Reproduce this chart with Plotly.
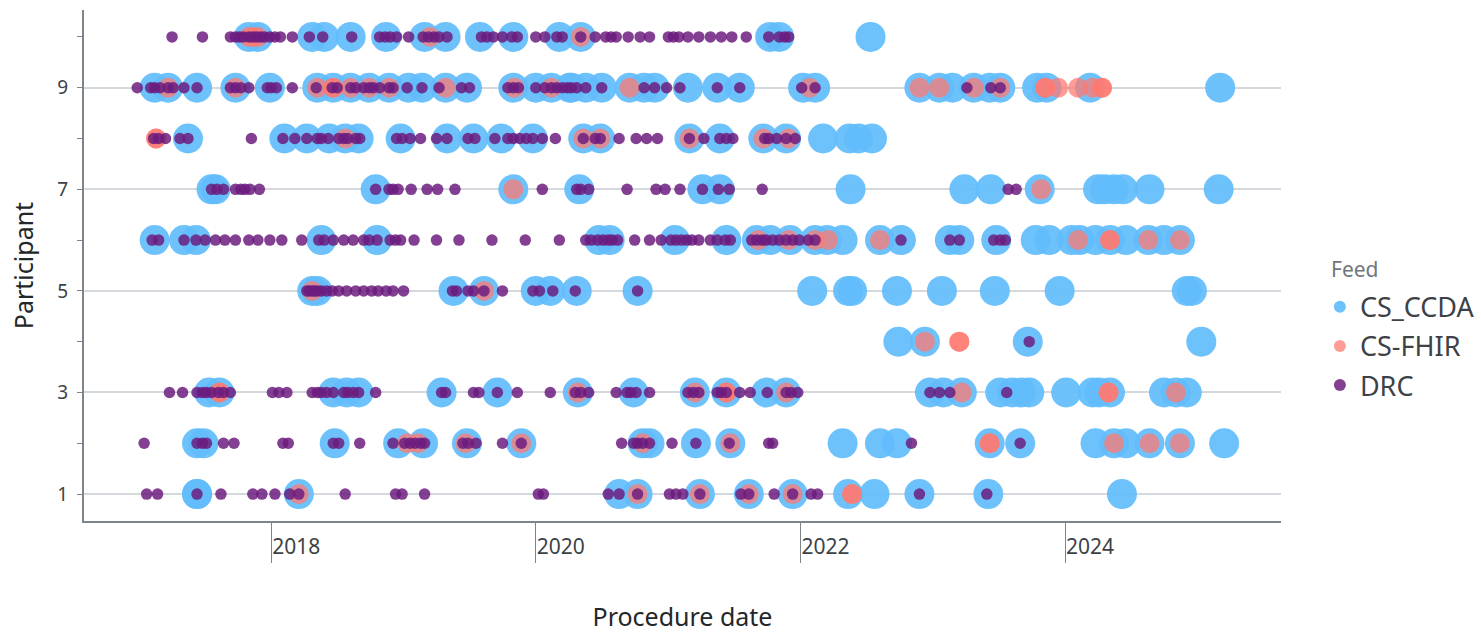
import pandas as pd
import plotly.graph_objects as go

FEEDS = ["CS_CCDA", "CS-FHIR", "DRC"]

# Procedure dates as decimal years, per participant
ccda_10 = [2017.83,2017.90,2018.31,2018.40,2018.60,2018.87,2019.16,2019.32,2019.58,2019.83,2020.18,2020.34,2021.77,2021.84,2022.53]
fhir_10 = [2017.83,2017.86,2017.90,2019.20,2020.34]
drc_10 = [2017.25,2017.48,2017.69,2017.73,2017.76,2017.79,2017.83,2017.86,2017.89,2017.92,2017.95,2017.99,2018.03,2018.07,2018.16,2018.29,2018.39,2018.61,2018.82,2018.86,2018.90,2018.95,2019.04,2019.15,2019.19,2019.23,2019.27,2019.33,2019.59,2019.63,2019.68,2019.75,2019.82,2019.86,2020.00,2020.07,2020.16,2020.20,2020.34,2020.45,2020.53,2020.57,2020.61,2020.70,2020.79,2020.86,2021.00,2021.04,2021.08,2021.15,2021.23,2021.32,2021.40,2021.48,2021.59,2021.76,2021.84,2021.88,2021.91]

ccda_9 = [2017.12,2017.22,2017.44,2017.73,2017.99,2018.35,2018.47,2018.60,2018.74,2018.89,2019.04,2019.14,2019.32,2019.48,2019.83,2020.00,2020.12,2020.26,2020.27,2020.38,2020.50,2020.71,2020.82,2020.90,2021.15,2021.37,2021.54,2022.02,2022.11,2022.90,2023.05,2023.15,2023.31,2023.43,2023.51,2023.79,2023.86,2024.19,2025.17]
fhir_9 = [2017.22,2017.73,2018.35,2018.47,2018.47,2018.60,2018.74,2018.89,2019.32,2019.84,2020.12,2020.71,2022.07,2022.90,2023.05,2023.31,2023.51,2023.85,2023.85,2023.95,2024.10,2024.21,2024.28,2024.28]
drc_9 = [2016.99,2017.09,2017.12,2017.16,2017.22,2017.26,2017.34,2017.44,2017.69,2017.73,2017.77,2017.83,2017.97,2018.00,2018.04,2018.16,2018.34,2018.46,2018.50,2018.60,2018.64,2018.70,2018.74,2018.77,2018.82,2018.89,2018.92,2019.03,2019.14,2019.27,2019.44,2019.50,2019.79,2019.83,2019.87,2020.00,2020.07,2020.12,2020.16,2020.20,2020.24,2020.27,2020.31,2020.38,2020.50,2020.82,2020.90,2020.99,2021.09,2021.37,2021.54,2022.01,2022.11,2023.26,2023.44,2023.51]

ccda_8 = [2017.37,2018.10,2018.27,2018.44,2018.56,2018.66,2018.98,2019.33,2019.53,2019.74,2019.98,2020.36,2020.49,2021.16,2021.39,2021.72,2021.89,2022.17,2022.37,2022.44,2022.54]
fhir_8 = [2017.13,2017.13,2018.56,2020.36,2020.49,2021.16,2021.72,2021.91]
drc_8 = [2017.11,2017.15,2017.20,2017.31,2017.37,2017.85,2018.09,2018.18,2018.27,2018.35,2018.38,2018.43,2018.51,2018.55,2018.58,2018.64,2018.67,2018.95,2018.99,2019.05,2019.13,2019.25,2019.33,2019.49,2019.54,2019.69,2019.79,2019.83,2019.88,2019.93,2019.98,2020.05,2020.15,2020.36,2020.45,2020.49,2020.63,2020.76,2020.84,2020.92,2021.16,2021.27,2021.39,2021.44,2021.49,2021.73,2021.76,2021.82,2021.89,2021.96]

ccda_7 = [2017.55,2017.58,2018.79,2019.83,2020.33,2021.26,2021.39,2022.38,2023.24,2023.44,2023.81,2024.25,2024.30,2024.37,2024.44,2024.64,2025.16]
fhir_7 = [2019.83,2023.82]
drc_7 = [2017.55,2017.59,2017.64,2017.73,2017.77,2017.80,2017.84,2017.91,2018.79,2018.89,2018.92,2018.96,2019.06,2019.18,2019.26,2019.39,2020.05,2020.31,2020.34,2020.40,2020.69,2020.91,2020.98,2021.09,2021.26,2021.38,2021.46,2021.71,2023.57,2023.63]

ccda_6 = [2017.12,2017.34,2017.43,2018.38,2018.80,2020.48,2020.56,2021.05,2021.44,2021.67,2021.77,2021.92,2022.11,2022.20,2022.32,2022.60,2022.76,2023.13,2023.20,2023.48,2023.78,2023.88,2024.05,2024.11,2024.23,2024.34,2024.46,2024.63,2024.75,2024.87]
fhir_6 = [2021.68,2021.91,2022.11,2022.21,2022.60,2024.10,2024.34,2024.34,2024.63,2024.87]
drc_6 = [2017.10,2017.15,2017.34,2017.43,2017.50,2017.58,2017.65,2017.73,2017.83,2017.90,2017.99,2018.08,2018.23,2018.36,2018.40,2018.47,2018.55,2018.62,2018.70,2018.74,2018.80,2018.90,2018.94,2018.98,2019.08,2019.25,2019.42,2019.67,2019.92,2020.18,2020.38,2020.42,2020.47,2020.51,2020.55,2020.58,2020.62,2020.75,2020.86,2020.95,2021.02,2021.06,2021.10,2021.14,2021.18,2021.23,2021.32,2021.37,2021.43,2021.47,2021.63,2021.67,2021.71,2021.74,2021.79,2021.84,2021.89,2021.94,2021.99,2022.06,2022.11,2022.76,2023.13,2023.20,2023.46,2023.51,2023.55]

ccda_5 = [2018.31,2018.35,2019.38,2019.61,2020.00,2020.11,2020.31,2020.77,2022.09,2022.36,2022.39,2022.73,2023.07,2023.47,2023.96,2024.92,2024.96]
fhir_5 = [2018.31,2019.61]
drc_5 = [2018.27,2018.29,2018.31,2018.33,2018.35,2018.38,2018.42,2018.46,2018.51,2018.57,2018.64,2018.70,2018.76,2018.81,2018.87,2018.92,2019.00,2019.37,2019.40,2019.49,2019.53,2019.61,2019.75,2019.98,2020.03,2020.13,2020.30,2020.77]

ccda_4 = [2022.74,2022.94,2023.72,2025.03]
fhir_4 = [2022.94,2023.20,2023.20]
drc_4 = [2023.73]

ccda_3 = [2017.53,2017.61,2018.47,2018.57,2018.66,2019.29,2019.71,2020.32,2020.74,2021.20,2021.44,2021.74,2021.89,2022.98,2023.08,2023.22,2023.51,2023.60,2023.67,2023.73,2024.01,2024.21,2024.26,2024.34,2024.75,2024.84,2024.92]
fhir_3 = [2017.61,2017.61,2020.32,2021.20,2021.44,2021.44,2021.89,2023.22,2024.33,2024.33,2024.84]
drc_3 = [2017.23,2017.33,2017.44,2017.48,2017.51,2017.55,2017.60,2017.64,2017.69,2018.01,2018.06,2018.12,2018.31,2018.35,2018.38,2018.42,2018.47,2018.55,2018.58,2018.62,2018.66,2018.79,2019.29,2019.32,2019.53,2019.57,2019.71,2019.86,2020.11,2020.30,2020.34,2020.40,2020.61,2020.69,2020.72,2020.76,2020.86,2021.15,2021.19,2021.23,2021.37,2021.40,2021.44,2021.54,2021.62,2021.75,2021.89,2021.93,2021.98,2022.98,2023.05,2023.13,2023.56]

ccda_2 = [2017.44,2017.49,2018.48,2018.96,2019.15,2019.48,2019.89,2020.81,2020.86,2021.21,2021.47,2022.32,2022.60,2022.73,2023.43,2023.66,2024.23,2024.37,2024.46,2024.64,2024.87,2025.20]
fhir_2 = [2019.03,2019.11,2019.47,2019.89,2020.81,2021.47,2023.43,2023.43,2024.37,2024.64,2024.87]
drc_2 = [2017.04,2017.44,2017.48,2017.51,2017.64,2017.72,2018.09,2018.13,2018.47,2018.51,2018.67,2018.92,2019.01,2019.05,2019.09,2019.13,2019.16,2019.45,2019.49,2019.55,2019.75,2019.89,2020.65,2020.74,2020.77,2020.81,2020.86,2021.03,2021.21,2021.46,2021.76,2021.79,2022.84,2023.66]

ccda_1 = [2017.44,2017.44,2018.21,2020.63,2020.77,2021.24,2021.61,2021.94,2022.36,2022.56,2022.90,2023.42,2024.43]
fhir_1 = [2018.21,2020.77,2021.24,2021.61,2021.94,2022.39,2022.39]
drc_1 = [2017.06,2017.14,2017.44,2017.62,2017.86,2017.93,2018.03,2018.14,2018.21,2018.56,2018.94,2018.99,2019.16,2020.02,2020.06,2020.55,2020.63,2020.77,2021.01,2021.06,2021.11,2021.24,2021.55,2021.61,2021.80,2021.94,2022.08,2022.13,2022.90,2023.41]

ccda = {10:ccda_10,9:ccda_9,8:ccda_8,7:ccda_7,6:ccda_6,5:ccda_5,4:ccda_4,3:ccda_3,2:ccda_2,1:ccda_1}
fhir = {10:fhir_10,9:fhir_9,8:fhir_8,7:fhir_7,6:fhir_6,5:fhir_5,4:fhir_4,3:fhir_3,2:fhir_2,1:fhir_1}
drc = {10:drc_10,9:drc_9,8:drc_8,7:drc_7,6:drc_6,5:drc_5,4:drc_4,3:drc_3,2:drc_2,1:drc_1}

YEAR_TICKS = ["2018-01-01", "2020-01-01", "2022-01-01", "2024-01-01"]
YEAR_LABELS = ["2018", "2020", "2022", "2024"]
Y_LABELS = [1, 3, 5, 7, 9]
LEGEND_TITLE = "Feed"


def to_date(v):
    year = int(v)
    start = pd.Timestamp(year=year, month=1, day=1)
    return (start + pd.Timedelta(days=(v - year) * 365.25)).strftime("%Y-%m-%d")


def flatten(table):
    xs, ys = [], []
    for participant, values in table.items():
        for v in values:
            xs.append(to_date(v))
            ys.append(participant)
    return xs, ys


FONT = "Noto Sans"
INK = "#3c4247"
AXIS = "#7d858b"

fig = go.Figure()
styles = [(ccda, "#62bdfc", 30, 0.92), (fhir, "#ff7a72", 20, 0.74), (drc, "#6b1c7e", 11.5, 0.84)]
for name, (table, color, size, op) in zip(FEEDS, styles):
    xs, ys = flatten(table)
    fig.add_trace(go.Scatter(x=xs, y=ys, mode="markers", name=name, legendgroup=name,
                             marker=dict(color=color, size=size, opacity=op, line=dict(width=0))))

fig.update_layout(
    width=1481, height=633,
    margin=dict(l=84, r=200, t=10, b=112, autoexpand=False),
    paper_bgcolor="white", plot_bgcolor="white",
    font=dict(family=FONT, color=INK),
    showlegend=True,
    legend=dict(
        font=dict(size=27, color=INK),
        x=1.0325, xanchor="left", xref="paper", y=0.342, yanchor="middle",
        itemsizing="constant", itemwidth=30, tracegroupgap=1, traceorder="grouped",
    ),
    annotations=[dict(text=LEGEND_TITLE, xref="paper", yref="paper", x=1.0405, y=0.4925,
                      xanchor="left", yanchor="middle", showarrow=False,
                      font=dict(size=21, color="#70777d"))],
    xaxis=dict(
        type="date", range=["2016-08-02", "2025-08-19"], automargin=False,
        tickmode="array", tickvals=YEAR_TICKS, ticktext=YEAR_LABELS,
        ticks="outside", ticklen=40, tickwidth=1, tickcolor=AXIS,
        ticklabelshift=25, ticklabelstandoff=-34,
        tickfont=dict(size=21, color=INK),
        showgrid=False, zeroline=False, showline=True, linecolor=AXIS, linewidth=2,
        title=dict(text="Procedure date", font=dict(size=25, color="#23272a"), standoff=58),
    ),
    yaxis=dict(
        range=[0.47, 10.53], automargin=False,
        tickmode="array", tickvals=Y_LABELS, ticktext=[str(v) for v in Y_LABELS],
        ticks="outside", ticklen=5, tickwidth=1, tickcolor=AXIS,
        minor=dict(dtick=1, tick0=0, ticks="outside", ticklen=5, tickwidth=1, tickcolor=AXIS, showgrid=False),
        tickfont=dict(size=19, color=INK), ticklabelstandoff=5,
        showgrid=True, gridcolor="#d5d8dc", gridwidth=1.5, zeroline=False,
        showline=True, linecolor=AXIS, linewidth=2,
        title=dict(text="Participant", font=dict(size=25, color="#23272a"), standoff=17),
    ),
)

fig.write_html("out.html", config={"displayModeBar": False}, post_script="document.body.style.margin='0';")
